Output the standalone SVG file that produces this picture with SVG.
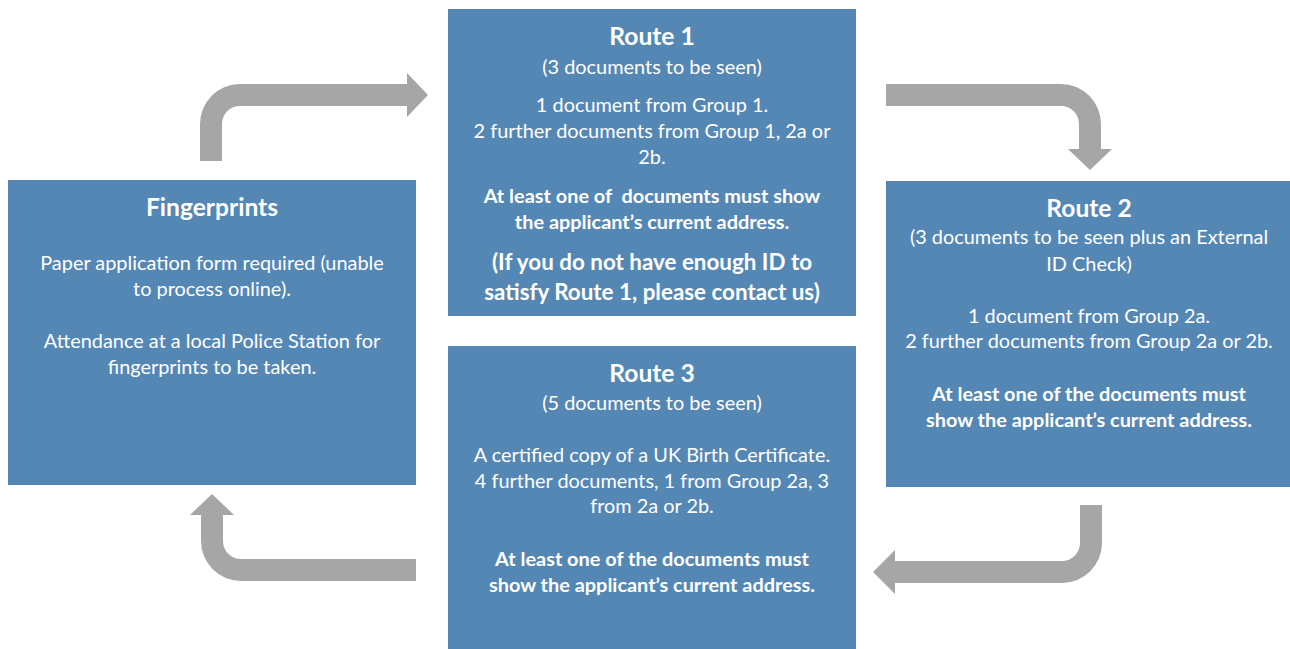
<svg xmlns="http://www.w3.org/2000/svg" width="1290" height="649" viewBox="0 0 1290 649">
<style>
.box{fill:#5587B5}
.arrow{fill:#A6A6A6}
text{font-family:Lato,"Open Sans",sans-serif;fill:#FFFFFF;text-anchor:middle}
.t{font-size:24.6px;font-weight:bold}
.r{font-size:19.9px}
.b{font-size:19.9px;font-weight:bold}
.bb{font-size:22.4px;font-weight:bold}
</style>
<rect width="1290" height="649" fill="#FFFFFF"/>
<g id="connectors">
<path class="arrow" d="M200,161 L200,124 A40,40 0 0 1 240,84 L407,84 L407,73 L428,95 L407,117 L407,106 L240,106 A18,18 0 0 0 222,124 L222,161 Z"/>
<path class="arrow" d="M886,84 L1061,84 A40,40 0 0 1 1101,124 L1101,149 L1112,149 L1090,170 L1068,149 L1079,149 L1079,124 A18,18 0 0 0 1061,106 L886,106 Z"/>
<path class="arrow" d="M1102,505 L1102,543 A40,40 0 0 1 1062,583 L895,583 L895,594 L873,572 L895,550 L895,561 L1062,561 A18,18 0 0 0 1080,543 L1080,505 Z"/>
<path class="arrow" d="M416,559 L241,559 A18,18 0 0 1 223,541 L223,515 L234,515 L212,494 L190,515 L201,515 L201,541 A40,40 0 0 0 241,581 L416,581 Z"/>
</g>
<g id="route1">
<rect class="box" x="448" y="9" width="408" height="307"/>
<text class="t" x="652" y="45">Route 1</text>
<text class="r" x="652" y="74">(3 documents to be seen)</text>
<text class="r" x="652" y="112">1 document from Group 1.</text>
<text class="r" x="652" y="138">2 further documents from Group 1, 2a or</text>
<text class="r" x="652" y="164">2b.</text>
<text class="b" x="652" y="203" xml:space="preserve">At least one of  documents must show</text>
<text class="b" x="652" y="229">the applicant’s current address.</text>
<text class="bb" x="652" y="270">(If you do not have enough ID to</text>
<text class="bb" x="652" y="300">satisfy Route 1, please contact us)</text>
</g>
<g id="fingerprints">
<rect class="box" x="8" y="180" width="408" height="305"/>
<text class="t" x="212" y="216">Fingerprints</text>
<text class="r" x="212" y="270">Paper application form required (unable</text>
<text class="r" x="212" y="296">to process online).</text>
<text class="r" x="212" y="348">Attendance at a local Police Station for</text>
<text class="r" x="212" y="374">fingerprints to be taken.</text>
</g>
<g id="route2">
<rect class="box" x="886" y="181" width="404" height="306"/>
<text class="t" x="1089" y="217">Route 2</text>
<text class="r" x="1089" y="244">(3 documents to be seen plus an External</text>
<text class="r" x="1089" y="271">ID Check)</text>
<text class="r" x="1089" y="323">1 document from Group 2a.</text>
<text class="r" x="1089" y="348">2 further documents from Group 2a or 2b.</text>
<text class="b" x="1089" y="401">At least one of the documents must</text>
<text class="b" x="1089" y="427">show the applicant’s current address.</text>
</g>
<g id="route3">
<rect class="box" x="448" y="346" width="408" height="303"/>
<text class="t" x="652" y="382">Route 3</text>
<text class="r" x="652" y="410">(5 documents to be seen)</text>
<text class="r" x="652" y="462">A certified copy of a UK Birth Certificate.</text>
<text class="r" x="652" y="488">4 further documents, 1 from Group 2a, 3</text>
<text class="r" x="652" y="513">from 2a or 2b.</text>
<text class="b" x="652" y="566">At least one of the documents must</text>
<text class="b" x="652" y="592">show the applicant’s current address.</text>
</g>
</svg>
